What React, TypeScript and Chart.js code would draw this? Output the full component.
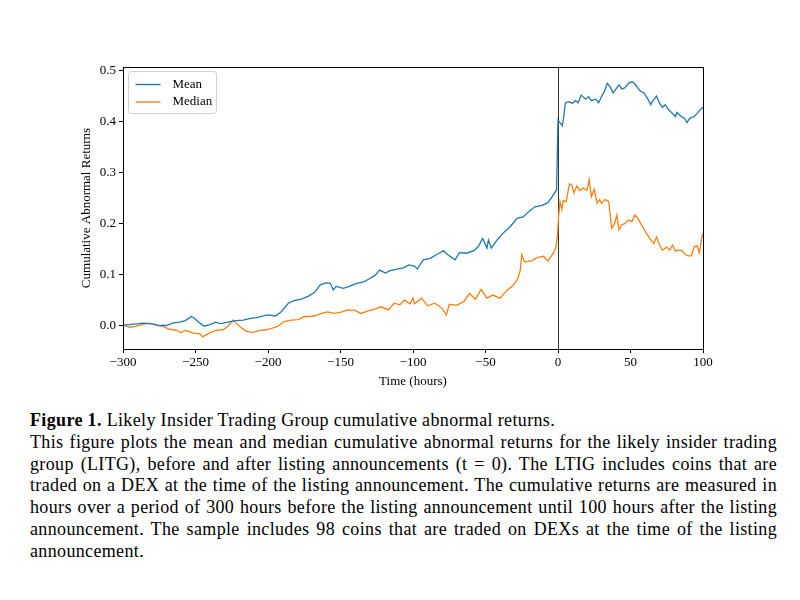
import React, { useEffect, useRef } from "react";
import { Chart, registerables } from "chart.js";

Chart.register(...registerables);

const meanHours = [
  -300, -296, -293, -289, -286, -282, -279, -275, -272, -270, -266, -261, -257, -253, -251, -247, -244, -240, -236, -233,
  -231, -226, -222, -217, -213, -208, -203, -200, -195, -191, -186, -182, -177, -172, -168, -164, -160, -157, -155, -153,
  -148, -144, -139, -134, -130, -126, -123, -119, -116, -111, -107, -103, -99, -97, -93, -88, -84, -79, -76, -71,
  -68, -63, -58, -55, -52, -49, -48, -46, -42, -38, -33, -28, -24, -20, -16, -11, -7, -4, -1, 0,
  3, 4, 5, 7, 10, 12, 14, 16, 19, 21, 23, 26, 28, 30, 32, 34, 36, 38, 42, 44,
  46, 49, 51, 53, 55, 57, 59, 62, 64, 65, 68, 70, 72, 74, 76, 79, 81, 82, 85, 87,
  89, 91, 94, 96, 98, 100,
];
const meanValues = [
  0.001, 0.002, 0.003, 0.004, 0.005, 0.004, 0.003, 0.0, 0.001, 0.0, 0.005, 0.007, 0.01, 0.018, 0.015, 0.005, -0.001, 0.002, 0.007, 0.004,
  0.005, 0.008, 0.01, 0.011, 0.014, 0.016, 0.019, 0.021, 0.019, 0.027, 0.044, 0.049, 0.052, 0.058, 0.065, 0.08, 0.084, 0.083, 0.07, 0.077,
  0.073, 0.077, 0.083, 0.086, 0.092, 0.099, 0.109, 0.103, 0.108, 0.111, 0.113, 0.119, 0.117, 0.111, 0.129, 0.132, 0.139, 0.147, 0.139, 0.129,
  0.143, 0.142, 0.147, 0.155, 0.171, 0.152, 0.168, 0.152, 0.168, 0.181, 0.194, 0.211, 0.213, 0.224, 0.233, 0.236, 0.241, 0.253, 0.266, 0.403,
  0.392, 0.41, 0.436, 0.439, 0.436, 0.441, 0.437, 0.452, 0.444, 0.449, 0.441, 0.444, 0.437, 0.449, 0.459, 0.475, 0.468, 0.456, 0.472, 0.464,
  0.466, 0.476, 0.478, 0.474, 0.466, 0.459, 0.457, 0.444, 0.433, 0.439, 0.45, 0.436, 0.428, 0.433, 0.424, 0.416, 0.41, 0.418, 0.41, 0.407,
  0.398, 0.407, 0.41, 0.416, 0.423, 0.428,
];

const medianHours = [
  -300, -295, -291, -286, -282, -277, -272, -268, -263, -260, -257, -252, -247, -245, -244, -240, -236, -231, -228, -224,
  -222, -218, -215, -210, -206, -201, -197, -193, -189, -184, -179, -175, -171, -168, -163, -159, -154, -149, -145, -140,
  -136, -131, -126, -122, -117, -113, -109, -106, -102, -100, -99, -94, -90, -85, -80, -77, -75, -70, -65, -61,
  -57, -53, -49, -45, -40, -35, -32, -28, -26, -25, -23, -18, -14, -10, -7, -3, -1.5, -0.4, 0.3, 1.4,
  2.6, 3.7, 5.6, 7.9, 9.5, 11, 13, 15, 17.5, 20, 21.5, 23, 25, 27, 28.6, 30, 32.5, 35, 37, 39,
  40.6, 42, 44, 46, 48.6, 51, 53, 55, 57, 59, 61, 64, 66, 68, 70, 72, 75, 77, 79, 81,
  83, 85.5, 88, 90, 92, 94, 96, 97.5, 99.3, 100,
];
const medianValues = [
  0.001, -0.003, -0.001, 0.003, 0.005, 0.001, -0.002, -0.007, -0.009, -0.014, -0.009, -0.014, -0.016, -0.022, -0.02, -0.014, -0.009, -0.008, -0.002, 0.011,
  0.005, -0.005, -0.011, -0.013, -0.009, -0.008, -0.005, -0.001, 0.008, 0.011, 0.012, 0.018, 0.018, 0.019, 0.024, 0.027, 0.024, 0.027, 0.031, 0.03,
  0.024, 0.029, 0.033, 0.037, 0.031, 0.044, 0.041, 0.05, 0.043, 0.054, 0.043, 0.054, 0.039, 0.044, 0.034, 0.021, 0.042, 0.04, 0.047, 0.063,
  0.052, 0.071, 0.054, 0.06, 0.054, 0.07, 0.076, 0.09, 0.109, 0.139, 0.125, 0.127, 0.134, 0.136, 0.127, 0.143, 0.153, 0.175, 0.211, 0.243,
  0.228, 0.245, 0.243, 0.278, 0.276, 0.26, 0.274, 0.265, 0.27, 0.265, 0.286, 0.253, 0.267, 0.24, 0.247, 0.24, 0.247, 0.243, 0.191, 0.2,
  0.217, 0.188, 0.198, 0.2, 0.207, 0.204, 0.217, 0.211, 0.2, 0.191, 0.181, 0.168, 0.161, 0.174, 0.158, 0.148, 0.154, 0.148, 0.158, 0.146,
  0.148, 0.147, 0.139, 0.137, 0.137, 0.155, 0.156, 0.143, 0.175, 0.18,
];

const seriesLabels = ["Mean", "Median"];
const seriesColors = ["#1f77b4", "#ff7f0e"];
const xTicks = [-300, -250, -200, -150, -100, -50, 0, 50, 100];
const yTicks = [0.0, 0.1, 0.2, 0.3, 0.4, 0.5];
const xTitle = "Time (hours)";
const yTitle = "Cumulative Abnormal Returns";
const eventHour = 0;

const captionTitle = "Figure 1.";
const captionTitleRest = " Likely Insider Trading Group cumulative abnormal returns.";
const captionLines = [
  "This figure plots the mean and median cumulative abnormal returns for the likely insider trading",
  "group (LITG), before and after listing announcements (t = 0).  The LTIG includes coins that are",
  "traded on a DEX at the time of the listing announcement.  The cumulative returns are measured in",
  "hours over a period of 300 hours before the listing announcement until 100 hours after the listing",
  "announcement.  The sample includes 98 coins that are traded on DEXs at the time of the listing",
  "announcement.",
];

const FONT = "'Liberation Serif', 'Times New Roman', serif";

const framePlugin = {
  id: "frame",
  beforeDatasetsDraw(chart: any) {
    const { ctx, chartArea, scales } = chart;
    const x0 = Math.round(scales.x.getPixelForValue(eventHour)) + 0.5;
    ctx.save();
    ctx.strokeStyle = "#333";
    ctx.lineWidth = 1;
    ctx.beginPath();
    ctx.moveTo(x0, chartArea.top);
    ctx.lineTo(x0, chartArea.bottom);
    ctx.stroke();
    ctx.restore();
  },
  afterDraw(chart: any) {
    const { ctx, chartArea } = chart;
    ctx.save();
    ctx.strokeStyle = "#000";
    ctx.lineWidth = 1;
    ctx.strokeRect(
      Math.round(chartArea.left) + 0.5,
      Math.round(chartArea.top) + 0.5,
      Math.round(chartArea.right - chartArea.left),
      Math.round(chartArea.bottom - chartArea.top)
    );
    // legend
    const lx = chartArea.left + 5.5;
    const ly = chartArea.top + 4.5;
    const w = 88;
    const h = 42;
    const r = 3;
    ctx.fillStyle = "rgba(255,255,255,0.85)";
    ctx.strokeStyle = "#d0d0d0";
    ctx.beginPath();
    ctx.moveTo(lx + r, ly);
    ctx.lineTo(lx + w - r, ly);
    ctx.quadraticCurveTo(lx + w, ly, lx + w, ly + r);
    ctx.lineTo(lx + w, ly + h - r);
    ctx.quadraticCurveTo(lx + w, ly + h, lx + w - r, ly + h);
    ctx.lineTo(lx + r, ly + h);
    ctx.quadraticCurveTo(lx, ly + h, lx, ly + h - r);
    ctx.lineTo(lx, ly + r);
    ctx.quadraticCurveTo(lx, ly, lx + r, ly);
    ctx.closePath();
    ctx.fill();
    ctx.stroke();
    ctx.font = `13px ${FONT}`;
    ctx.textBaseline = "middle";
    seriesLabels.forEach((label, i) => {
      const yy = ly + 13 + i * 17.5;
      ctx.strokeStyle = seriesColors[i];
      ctx.lineWidth = 1.4;
      ctx.beginPath();
      ctx.moveTo(lx + 7, yy);
      ctx.lineTo(lx + 32, yy);
      ctx.stroke();
      ctx.fillStyle = "#000";
      ctx.fillText(label, lx + 44, yy);
    });
    ctx.restore();
  },
};

function fmtX(v: number) {
  return v < 0 ? "\u2212" + Math.abs(v) : String(v);
}

export default function App() {
  const ref = useRef<HTMLCanvasElement | null>(null);
  useEffect(() => {
    if (!ref.current) return;
    Chart.defaults.font.family = FONT;
    const chart = new Chart(ref.current, {
      type: "line",
      data: {
        datasets: [
          {
            label: seriesLabels[0],
            data: meanHours.map((h, i) => ({ x: h, y: meanValues[i] })),
            borderColor: seriesColors[0],
            borderWidth: 1.3,
            pointRadius: 0,
            tension: 0,
            fill: false,
          },
          {
            label: seriesLabels[1],
            data: medianHours.map((h, i) => ({ x: h, y: medianValues[i] })),
            borderColor: seriesColors[1],
            borderWidth: 1.3,
            pointRadius: 0,
            tension: 0,
            fill: false,
          },
        ],
      },
      options: {
        responsive: false,
        animation: false,
        events: [],
        layout: { padding: { top: 67, right: 97, left: 0, bottom: 0 } },
        plugins: { legend: { display: false }, tooltip: { enabled: false } },
        scales: {
          x: {
            type: "linear",
            min: -300,
            max: 100,
            afterBuildTicks: (s: any) => {
              s.ticks = xTicks.map((v) => ({ value: v }));
            },
            afterFit: (s: any) => {
              s.height = 51;
            },
            ticks: {
              color: "#000",
              font: { size: 13, family: FONT },
              padding: 2,
              maxRotation: 0,
              autoSkip: false,
              callback: (v: any) => fmtX(Number(v)),
            },
            grid: { drawOnChartArea: false, drawTicks: true, tickLength: 4, color: "#000" },
            border: { display: true, color: "#000", width: 1 },
            title: {
              display: true,
              text: xTitle,
              color: "#000",
              font: { size: 13, family: FONT },
              padding: { top: 0, bottom: 11 },
            },
          },
          y: {
            type: "linear",
            min: -0.0457,
            max: 0.507,
            afterBuildTicks: (s: any) => {
              s.ticks = yTicks.map((v) => ({ value: v }));
            },
            afterFit: (s: any) => {
              s.width = 123;
            },
            ticks: {
              color: "#000",
              font: { size: 13, family: FONT },
              padding: 3,
              autoSkip: false,
              callback: (v: any) => Number(v).toFixed(1),
            },
            grid: { drawOnChartArea: false, drawTicks: true, tickLength: 4, color: "#000" },
            border: { display: true, color: "#000", width: 1 },
            title: {
              display: true,
              text: yTitle,
              color: "#000",
              font: { size: 13, family: FONT },
              padding: { top: 79, bottom: 0 },
            },
          },
        },
      },
      plugins: [framePlugin],
    } as any);
    return () => chart.destroy();
  }, []);

  const lineStyle: React.CSSProperties = {
    height: "21.8px",
    lineHeight: "21.8px",
    textAlign: "justify",
    textAlignLast: "justify" as any,
    whiteSpace: "nowrap",
  };

  return (
    <div style={{ position: "absolute", left: 0, top: 0, width: 800, height: 600, background: "#fff" }}>
      <canvas ref={ref} width={800} height={400} style={{ position: "absolute", left: 0, top: 0, width: 800, height: 400 }} />
      <div
        style={{
          position: "absolute",
          left: 30,
          top: 410,
          width: 747,
          fontFamily: FONT,
          fontSize: "18px",
          letterSpacing: "0.35px",
          color: "#000",
        }}
      >
        <div style={{ height: "21.8px", lineHeight: "21.8px" }}>
          <b>{captionTitle}</b>
          {captionTitleRest}
        </div>
        {captionLines.map((l, i) => (
          <div
            key={i}
            style={i === captionLines.length - 1 ? { height: "21.8px", lineHeight: "21.8px" } : lineStyle}
          >
            {l}
          </div>
        ))}
      </div>
    </div>
  );
}
